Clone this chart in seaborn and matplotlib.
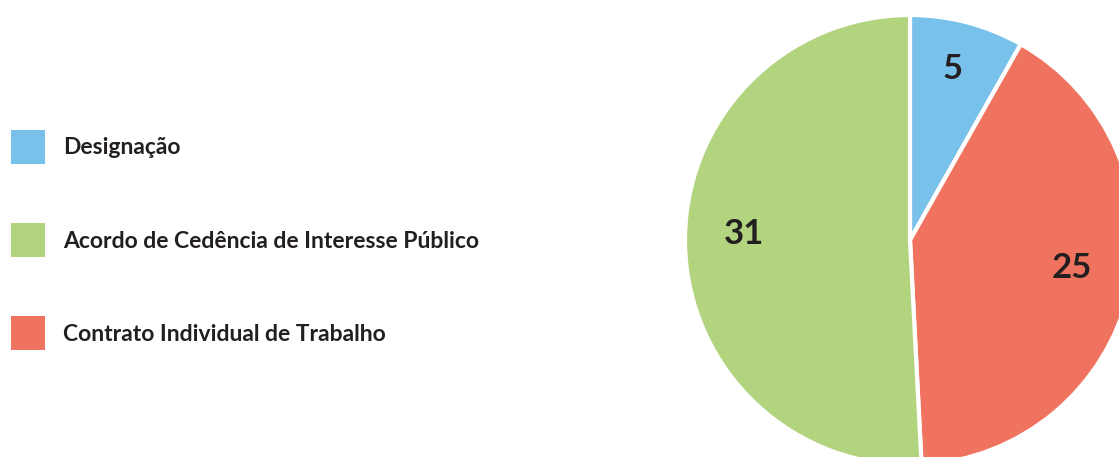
import matplotlib
matplotlib.use("Agg")
import matplotlib.pyplot as plt
import seaborn as sns
from matplotlib.patches import Patch

categories = ["Designação", "Contrato Individual de Trabalho", "Acordo de Cedência de Interesse Público"]
values = [5, 25, 31]
colors = ["#78C1EA", "#F07360", "#B2D47F"]
legend_order = ["Designação", "Acordo de Cedência de Interesse Público", "Contrato Individual de Trabalho"]

sns.set_theme(style="white")
plt.rcParams['font.family'] = ['Lato', 'DejaVu Sans']
TXT = "#231F20"

fig = plt.figure(figsize=(11.19, 4.57), dpi=100)
ax = fig.add_axes([0, 0, 1, 1])

total = sum(values)
wedges, texts, autotexts = ax.pie(
    values, colors=colors, startangle=90, counterclock=False,
    center=(910, 217), radius=225, frame=True,
    autopct=lambda p: f"{round(p * total / 100):d}", pctdistance=0.74,
    wedgeprops=dict(edgecolor="white", linewidth=3),
    textprops=dict(fontsize=25, fontweight="bold", color=TXT),
)
for t in autotexts:
    t.set_va("baseline")
ax.set_xlim(0, 1119)
ax.set_ylim(0, 457)
ax.set_aspect("equal")
ax.axis("off")

cmap = dict(zip(categories, colors))
handles = [Patch(facecolor=cmap[c], edgecolor="none", label=c) for c in legend_order]
leg = ax.legend(handles=handles, loc="upper left", bbox_to_anchor=(0.0, 1 - 118.5 / 457),
                frameon=False, fontsize=16.5, handlelength=1.48, handleheight=1.91,
                handletextpad=0.78, labelspacing=2.58, borderaxespad=0, borderpad=0.5)
for t in leg.get_texts():
    t.set_fontweight("bold")
    t.set_color(TXT)

fig.savefig("out.png", dpi=100)
